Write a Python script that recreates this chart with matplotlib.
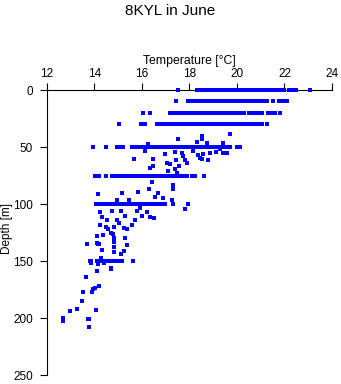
import matplotlib
matplotlib.use('Agg')
import matplotlib.pyplot as plt

# temperatures along the standard depth rows (depth in m -> temperatures in degC)
row_0 = [17.52, 18.3, 18.4, 18.5, 18.6, 18.7, 18.8, 18.9, 19.0, 19.1, 19.2, 19.3, 19.4,
         19.5, 19.6, 19.7, 19.8, 19.9, 20.0, 20.1, 20.2, 20.3, 20.4, 20.5, 20.6, 20.7,
         20.8, 20.9, 21.0, 21.1, 21.2, 21.3, 21.4, 21.5, 21.7, 21.8, 21.9, 22.0, 22.2, 22.3,
         22.47, 23.07]
row_10 = [17.43, 17.95, 18.05, 18.15, 18.25, 18.35, 18.45, 18.55, 18.65, 18.75, 18.85,
          18.95, 19.05, 19.15, 19.25, 19.35, 19.45, 19.55, 19.65, 19.75, 19.85, 19.95,
          20.05, 20.15, 20.25, 20.35, 20.45, 20.55, 20.65, 20.75, 20.85, 20.95, 21.05,
          21.15, 21.25, 21.5, 21.77, 21.85, 21.94, 22.1]
row_20 = [16.03, 16.34, 17.2, 17.3, 17.4, 17.5, 17.6, 17.7, 17.8, 17.9, 18.0, 18.1, 18.2,
          18.3, 18.4, 18.5, 18.6, 18.7, 18.8, 18.9, 19.0, 19.1, 19.2, 19.3, 19.4, 19.5,
          19.6, 19.7, 19.8, 19.9, 20.0, 20.1, 20.2, 20.3, 20.5, 20.6, 20.7, 20.8, 20.9,
          21.05, 21.3, 21.4, 21.5, 21.6, 21.8]
row_30 = [15.05, 15.95, 16.05, 16.13, 16.65, 16.75, 16.85, 16.95, 17.05, 17.15, 17.25,
          17.35, 17.45, 17.55, 17.65, 17.75, 17.85, 17.95, 18.05, 18.15, 18.25, 18.35,
          18.45, 18.55, 18.65, 18.75, 18.85, 18.95, 19.05, 19.15, 19.25, 19.35, 19.45,
          19.55, 19.65, 19.75, 19.85, 19.95, 20.05, 20.15, 20.25, 20.35, 20.45, 20.55,
          20.65, 20.75, 20.85, 20.9, 21.04, 21.25]
row_50 = [13.95, 14.48, 14.93, 15.0, 15.1, 15.2, 15.6, 15.7, 15.8, 15.9, 16.0, 16.1, 16.2,
          16.3, 16.4, 16.5, 16.6, 16.7, 16.8, 16.9, 17.0, 17.1, 17.2, 17.3, 17.4, 17.5,
          17.6, 17.7, 17.8, 17.9, 18.0, 18.1, 18.2, 18.3, 18.4, 18.5, 18.6, 18.7, 18.8,
          18.9, 19.0, 19.1, 19.2, 19.3, 19.4, 19.5, 19.6, 19.7, 20.0, 20.13]
row_75 = [14.02, 14.2, 14.48, 14.72, 14.82, 14.92, 15.02, 15.12, 15.22, 15.32, 15.42,
          15.52, 15.62, 15.72, 15.82, 15.92, 16.02, 16.12, 16.22, 16.32, 16.42, 16.52,
          16.62, 16.72, 16.82, 16.92, 17.02, 17.12, 17.22, 17.32, 17.42, 17.52, 17.62,
          17.72, 17.82, 17.88, 18.09, 18.23, 18.61]
row_100 = [14.06, 14.16, 14.26, 14.36, 14.46, 14.56, 14.66, 14.76, 14.86, 14.96, 15.06,
           15.16, 15.26, 15.36, 15.46, 15.56, 15.66, 15.76, 15.86, 15.96, 16.06, 16.16,
           16.26, 16.36, 16.46, 16.56, 16.66, 16.76, 16.86, 16.97, 17.29, 17.95]
row_150 = [13.8, 13.85, 14.1, 14.15, 14.2, 14.3, 14.4, 14.5, 14.6, 14.7, 14.8, 14.9,
           15.0, 15.05, 15.14, 15.63]

# scattered casts between the standard depths
scatter_temp = [17.53, 18.54, 18.54, 19.7, 18.3, 18.72, 19.42, 16.27, 16.13, 16.14, 16.97,
                17.39, 17.67, 17.71, 18.16, 18.37, 18.58, 18.86, 19.12, 19.39, 19.6, 19.28,
                18.44, 18.51, 18.79, 15.66, 16.48, 17.04, 17.18, 17.43, 17.81, 17.88, 17.57,
                16.48, 16.34, 17.11, 17.39, 17.46, 16.41, 17.29, 17.32, 16.31, 15.85, 15.14,
                14.13, 16.69, 16.9, 15.47, 14.93, 16.55, 17.25, 17.81, 14.23, 14.72, 15.1,
                15.78, 15.92, 16.2, 15.28, 15.99, 16.34, 16.52, 14.33, 14.54, 14.96, 15.05,
                15.71, 15.57, 14.23, 14.48, 14.58, 14.83, 15.26, 15.36, 14.69, 14.79, 14.09,
                14.34, 14.82, 15.3, 13.67, 14.16, 14.12, 14.2, 14.83, 14.83, 15.36, 14.33,
                14.83, 15.24, 15.1, 14.26, 13.85, 14.16, 14.4, 14.69, 14.69, 14.12, 13.64,
                14.2, 14.02, 13.95, 13.53, 13.91, 13.49, 13.28, 12.98, 14.08, 12.69, 12.66,
                13.74, 13.78, 13.78]
scatter_depth = [43.3, 40.4, 43.3, 38.6, 45.3, 46.8, 46.2, 47.6, 53.2, 53.8, 56.4,
                 54.7, 55.5, 57.9, 53.5, 57.3, 56.4, 55.5, 54.7, 55.5, 55.5, 52.0,
                 60.0, 60.5, 61.4, 60.5, 60.8, 64.3, 64.9, 61.4, 61.4, 63.7, 66.4,
                 66.4, 68.7, 71.0, 69.6, 72.5, 81.0, 83.3, 87.1, 87.1, 89.2, 90.0,
                 91.5, 90.6, 95.0, 96.5, 96.5, 94.2, 96.5, 104.7, 107.3, 105.8, 105.8,
                 106.1, 103.8, 106.7, 110.2, 110.2, 111.1, 112.6, 111.7, 114.0, 114.0, 116.9,
                 114.0, 118.7, 118.4, 119.9, 122.2, 120.4, 121.3, 121.6, 125.1, 126.3, 128.0,
                 127.5, 130.1, 130.1, 135.1, 135.1, 134.5, 135.4, 133.6, 137.4, 136.3, 140.4,
                 141.8, 141.0, 144.2, 147.7, 152.0, 152.9, 152.0, 156.5, 157.3, 159.0, 164.3,
                 171.9, 173.4, 174.3, 177.5, 177.5, 185.4, 192.4, 194.2, 193.3, 200.3, 202.6,
                 201.0, 201.0, 208.2]

rows = {0: row_0, 10: row_10, 20: row_20, 30: row_30, 50: row_50,
        75: row_75, 100: row_100, 150: row_150}

plt.rcParams['font.family'] = ['Liberation Sans', 'DejaVu Sans']

fig = plt.figure(figsize=(3.41, 3.84), dpi=100)
ax = fig.add_axes([0.1378, 0.0234, 0.8358, 0.7422])

for depth, temps in rows.items():
    ax.plot(temps, [depth] * len(temps), 's', color='#0000ff', ms=2.2, mew=0,
            clip_on=False, zorder=3)
ax.plot(scatter_temp, scatter_depth, 's', color='#0000ff', ms=2.2, mew=0,
        clip_on=False, zorder=3)

ax.set_xlim(12, 24)
ax.set_ylim(250, 0)
ax.set_xticks([12, 14, 16, 18, 20, 22, 24])
ax.set_yticks([0, 50, 100, 150, 200, 250])
ax.xaxis.tick_top()
ax.xaxis.set_label_position('top')
ax.spines['right'].set_visible(False)
ax.spines['bottom'].set_visible(False)
for s in ['top', 'left']:
    ax.spines[s].set_linewidth(0.8)
ax.tick_params(direction='out', length=5, width=0.8, labelsize=8.5, pad=2)
ax.tick_params(axis='y', pad=5)
ax.set_xlabel('Temperature [°C]', fontsize=8.8, labelpad=3)

# depth label placed by hand at the far left, as in the original
fig.text(0.02, 1 - 228 / 384, 'Depth [m]', rotation=90, ha='center', va='center',
         fontsize=8.5)

fig.text(0.5, 0.99, '8KYL in June', ha='center', va='top', fontsize=11)

fig.savefig('out.png', dpi=100)
